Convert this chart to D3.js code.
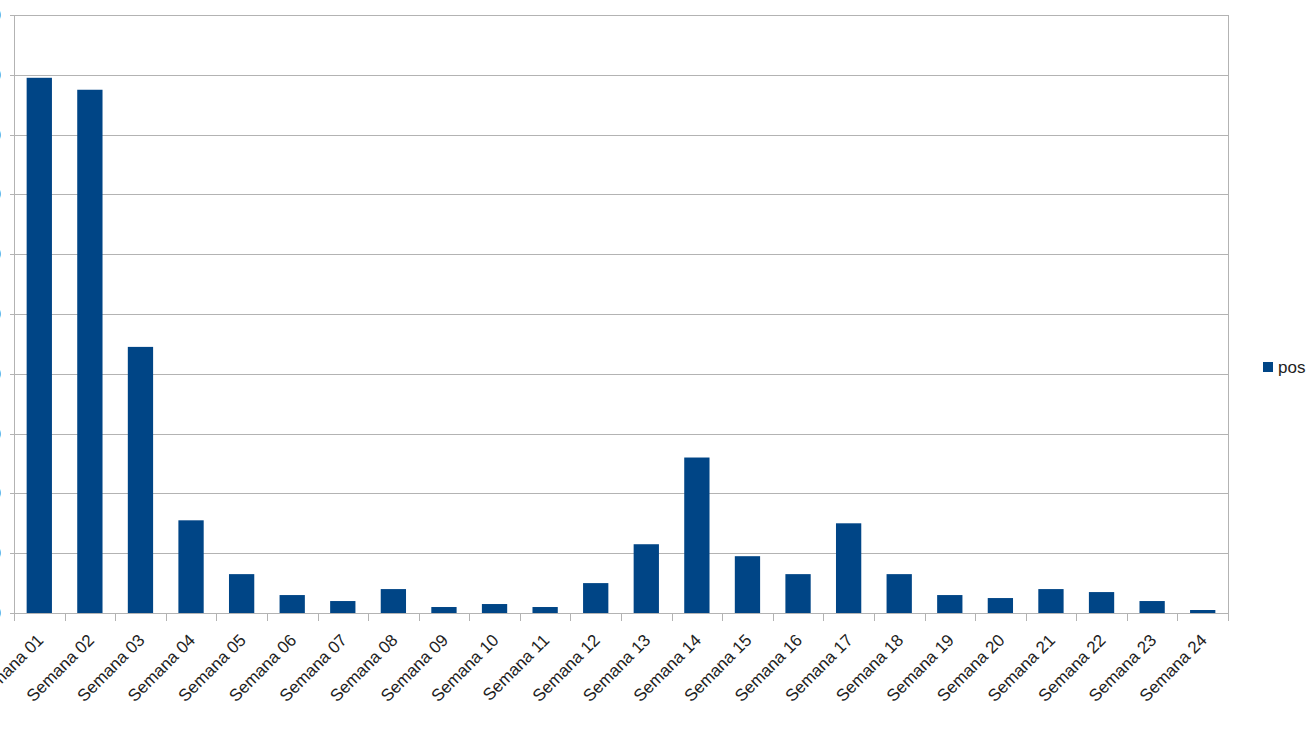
<!DOCTYPE html>
<html>
<head>
<meta charset="utf-8">
<script src="https://cdn.jsdelivr.net/npm/d3@7/dist/d3.min.js"></script>
<style>
  html, body { margin: 0; padding: 0; background: #fff; }
  svg { display: block; }
  text { font-family: "Liberation Sans", Arial, sans-serif; }
</style>
</head>
<body>
<svg id="chart" width="1306" height="733"></svg>
<script>
const categories = ["Semana 01","Semana 02","Semana 03","Semana 04","Semana 05","Semana 06","Semana 07","Semana 08","Semana 09","Semana 10","Semana 11","Semana 12","Semana 13","Semana 14","Semana 15","Semana 16","Semana 17","Semana 18","Semana 19","Semana 20","Semana 21","Semana 22","Semana 23","Semana 24"];
const posValues = [179,175,89,31,13,6,4,8,2,3,2,10,23,52,19,13,30,13,6,5,8,7,4,1];
const yTicks = [0,20,40,60,80,100,120,140,160,180,200];
const seriesName = "pos";

(function () {
const svg = d3.select("#chart");
const plotLeft = 14, plotRight = 1228, plotTop = 15, plotBottom = 613;
const gridColor = "#b3b3b3";
const barColor = "#004586";
const textColor = "#222";

const x = d3.scaleBand().domain(categories).range([plotLeft, plotRight]).paddingInner(0.5).paddingOuter(0.25);
const y = d3.scaleLinear().domain([0, 200]).range([plotBottom, plotTop]);
const step = x.step();

// gridlines
svg.append("g").selectAll("line").data(yTicks).join("line")
  .attr("x1", plotLeft - 4).attr("x2", plotRight)
  .attr("y1", d => Math.round(y(d)) + 0.5).attr("y2", d => Math.round(y(d)) + 0.5)
  .attr("stroke", gridColor).attr("stroke-width", 1);

// y tick labels (cut off at left edge, as in the reference)
svg.append("g").selectAll("text").data(yTicks).join("text")
  .attr("x", 1).attr("y", d => y(d)).attr("dy", "0.35em")
  .attr("text-anchor", "end").attr("font-size", 17).attr("fill", textColor)
  .text(d => d);

// left axis line and right border
svg.append("line").attr("x1", plotLeft + 0.5).attr("x2", plotLeft + 0.5).attr("y1", plotTop).attr("y2", plotBottom + 8)
  .attr("stroke", gridColor);
svg.append("line").attr("x1", plotRight + 0.5).attr("x2", plotRight + 0.5).attr("y1", plotTop).attr("y2", plotBottom + 8)
  .attr("stroke", gridColor);

// bottom ticks at category boundaries
const boundaries = d3.range(categories.length + 1).map(i => plotLeft + i * step);
svg.append("g").selectAll("line").data(boundaries).join("line")
  .attr("x1", d => Math.round(d) + 0.5).attr("x2", d => Math.round(d) + 0.5)
  .attr("y1", plotBottom).attr("y2", plotBottom + 8)
  .attr("stroke", gridColor);

// bars
svg.append("g").selectAll("rect").data(categories).join("rect")
  .attr("x", d => x(d)).attr("width", x.bandwidth())
  .attr("y", (d, i) => y(posValues[i]))
  .attr("height", (d, i) => y(0) - y(posValues[i]))
  .attr("fill", barColor);

// category labels
svg.append("g").selectAll("text").data(categories).join("text")
  .attr("transform", d => `translate(${x(d) + x.bandwidth() / 2 + 1},${plotBottom + 24}) rotate(-45)`)
  .attr("text-anchor", "end").attr("dy", "0.35em")
  .attr("font-size", 17).attr("fill", textColor)
  .text(d => d);

// legend
const lg = svg.append("g").attr("transform", "translate(1263,362)");
lg.append("rect").attr("width", 10).attr("height", 10).attr("fill", barColor);
lg.append("text").attr("x", 15).attr("y", 5).attr("dy", "0.35em")
  .attr("font-size", 17).attr("fill", textColor).text(seriesName);
})();
</script>
</body>
</html>
